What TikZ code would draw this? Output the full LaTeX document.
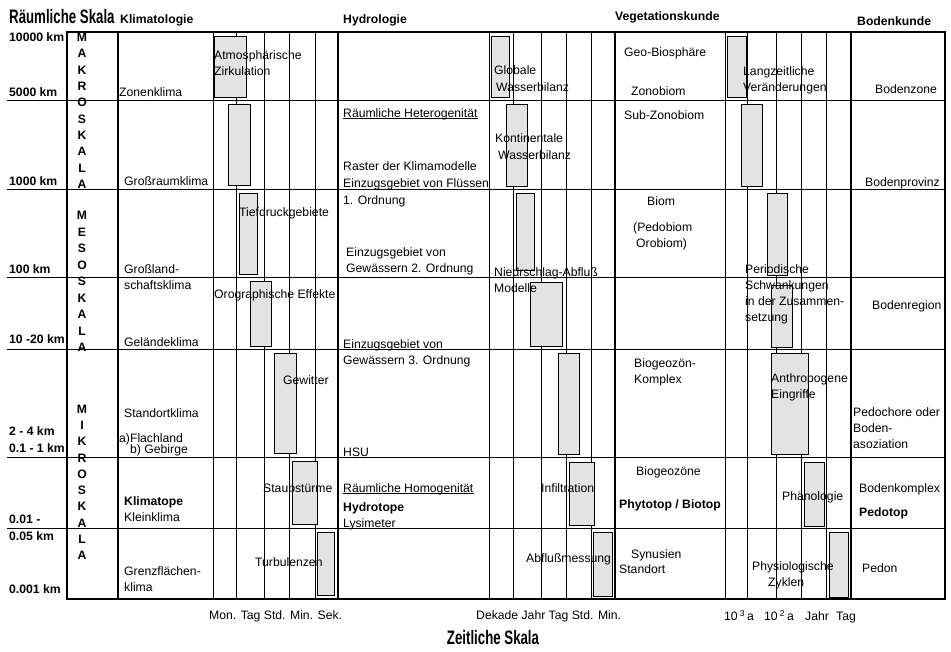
\documentclass[tikz,border=0pt]{standalone}
\usepackage{fontspec}
\setmainfont{Liberation Sans}
\newfontfamily\condfont[FakeStretch=0.68]{Liberation Sans}
\usepackage{tikz}

\begin{document}
\begin{tikzpicture}[
  x=1pt, y=-1pt,
  font=\fontsize{12.2}{16}\selectfont,
  txt/.style={anchor=west, inner sep=0pt, text height=9pt, text depth=0pt},
  multi/.style={anchor=north west, inner sep=0pt, align=left},
  hd/.style={txt, font=\fontsize{12.2}{16}\selectfont\bfseries},
  scl/.style={anchor=center, inner sep=0pt, text height=9pt, text depth=0pt, font=\fontsize{12.2}{16}\selectfont\bfseries},
  ttl/.style={anchor=west, inner sep=0pt, text height=14pt, text depth=0pt, font=\condfont\bfseries\fontsize{19.5}{22}\selectfont},
  bar/.style={draw, fill=gray!22, line width=0.6pt},
  thin/.style={line width=0.7pt},
  mid/.style={line width=1pt},
  heavy/.style={line width=1.8pt}]
\useasboundingbox (0,0) rectangle (951,651);
% grid
\foreach \x in {213,236,264,289,315,489,513,541,566,591,747,776,801,826}
  \draw[thin] (\x,32) -- (\x,599);
\draw[mid] (725,32) -- (725,599);
\foreach \y in {100,189,277,349,457,528}
  \draw[thin] (7,\y) -- (945,\y);
\foreach \x in {118,338,615,851}
  \draw[heavy] (\x,32) -- (\x,599);
\draw[heavy] (67,32) rectangle (945,599);
% time bars
\foreach \xa/\ya/\xb/\yb in {214/36/246/97, 228/104/250/185, 239/193/257/274, 250/281/271/346,
    274/353/296/453, 292/461/317/524, 317/532/334/595,
    491/36/509/97, 506/104/527/186, 516/193/534/270, 530/282/562/346,
    558/353/579/454, 569/462/594/525, 593/532/612/596,
    727/36/746/97, 741/104/762/186, 767/193/787/275, 771/285/792/347,
    771/353/808/454, 804/462/824/526, 829/532/848/597}
  \draw[bar] (\xa,\ya) rectangle (\xb,\yb);
% titles and headings
\node[ttl] (raeumlich) at (9,16) {Räumliche Skala};
\node[ttl, anchor=center] (zeitlich) at (493,637) {Zeitliche Skala};
\node[hd] (klimatologie) at (120,19) {Klimatologie};
\node[hd] (hydrologie) at (343,19) {Hydrologie};
\node[hd] (vegetation) at (615,16) {Vegetationskunde};
\node[hd] (bodenkunde) at (857,21) {Bodenkunde};
% spatial scale
\node[hd] (km10000) at (9,37) {10000 km};
\node[hd] (km5000) at (9,92) {5000 km};
\node[hd] (km1000) at (9,181) {1000 km};
\node[hd] (km100) at (9,269) {100 km};
\node[hd] (km10) at (9,339) {10 -20 km};
\node[hd] (km2) at (9,431) {2 - 4 km};
\node[hd] (km01) at (9,448) {0.1 - 1 km};
\node[hd] (km001) at (9,519) {0.01 -};
\node[hd] (km005) at (9,536) {0.05 km};
\node[hd] (km0001) at (9,589) {0.001 km};
\foreach \c [count=\i] in {M,A,K,R,O,S,K,A,L,A}
  \node[scl] (makro\i) at (82,{37+16.33*(\i-1)}) {\c};
\foreach \c [count=\i] in {M,E,S,O,S,K,A,L,A}
  \node[scl] (meso\i) at (82,{215+16.5*(\i-1)}) {\c};
\foreach \c [count=\i] in {M,I,K,R,O,S,K,A,L,A}
  \node[scl] (mikro\i) at (82,{409+16.22*(\i-1)}) {\c};
% Klimatologie
\node[txt] (zonenklima) at (119,92) {Zonenklima};
\node[txt] (grossraum) at (124,181) {Großraumklima};
\node[multi] (grossland) at (124,264.5) {Großland-\\schaftsklima};
\node[txt] (gelaende) at (124,342) {Geländeklima};
\node[txt] (standort) at (124,413) {Standortklima};
\node[txt] (flachland) at (119,438) {a)Flachland};
\node[txt] (gebirge) at (130,449) {b) Gebirge};
\node[hd] (klimatope) at (124,501) {Klimatope};
\node[txt] (kleinklima) at (124,517) {Kleinklima};
\node[multi] (grenzflaechen) at (124,566.5) {Grenzflächen-\\klima};
\node[multi] (zirkulation) at (214,50.5) {Atmosphärische\\Zirkulation};
\node[txt] (tiefdruck) at (239,212) {Tiefdruckgebiete};
\node[txt] (orographie) at (214,294) {Orographische Effekte};
\node[txt] (gewitter) at (283,380) {Gewitter};
\node[txt] (staub) at (263,488) {Staubstürme};
\node[txt] (turbulenz) at (255,562) {Turbulenzen};
% Hydrologie
\node[txt] (hetero) at (343,113) {Räumliche Heterogenität};
\node[txt] (raster) at (343,166) {Raster der Klimamodelle};
\node[txt] (fluesse) at (343,183) {Einzugsgebiet von Flüssen};
\node[txt] (ordnung1) at (343,200) {1. Ordnung};
\node[multi] (ordnung2) at (346,247.5) {Einzugsgebiet von\\Gewässern 2. Ordnung};
\node[multi] (ordnung3) at (343,339.5) {Einzugsgebiet von\\Gewässern 3. Ordnung};
\node[txt] (hsu) at (343,452) {HSU};
\node[txt] (homo) at (343,488) {Räumliche Homogenität};
\node[hd] (hydrotope) at (343,507) {Hydrotope};
\node[txt] (lysimeter) at (343,523) {Lysimeter};
\foreach \n in {hetero,hsu,homo,lysimeter}
  \draw[thin] ([yshift=-1pt]\n.south west) -- ([yshift=-1pt]\n.south east);
\node[txt] (globale) at (494,70) {Globale};
\node[txt] (wasser1) at (496,87) {Wasserbilanz};
\node[txt] (kontinent) at (495,138) {Kontinentale};
\node[txt] (wasser2) at (498,155) {Wasserbilanz};
\node[multi] (niederschlag) at (494,267.5) {Niedrschlag-Abfluß\\Modelle};
\node[txt] (infiltration) at (541,488) {Infiltration};
\node[txt] (abfluss) at (526,558) {Abflußmessung};
% Vegetationskunde
\node[txt] (geobio) at (624,52) {Geo-Biosphäre};
\node[txt] (zonobiom) at (631,91) {Zonobiom};
\node[txt] (subzono) at (624,115) {Sub-Zonobiom};
\node[txt] (biom) at (647,201) {Biom};
\node[txt] (pedobiom) at (633,227) {(Pedobiom};
\node[txt] (orobiom) at (636,243) {Orobiom)};
\node[multi] (komplex) at (634,358.5) {Biogeozön-\\Komplex};
\node[txt] (biogeozoene) at (636,471) {Biogeozöne};
\node[hd] (phytotop) at (619,504) {Phytotop / Biotop};
\node[txt] (synusien) at (631,554) {Synusien};
\node[txt] (standortv) at (619,569) {Standort};
\node[multi] (langzeit) at (743,66.5) {Langzeitliche\\Veränderungen};
\node[multi] (periodisch) at (745,264.5) {Periodische\\Schwankungen\\in der Zusammen-\\setzung};
\node[multi] (anthropogen) at (771,373.5) {Anthropogene\\Eingriffe};
\node[txt] (phaenologie) at (782,496) {Phänologie};
\node[txt] (physio) at (752,566) {Physiologische};
\node[txt] (zyklen) at (768,582) {Zyklen};
% Bodenkunde
\node[txt] (bodenzone) at (875,89) {Bodenzone};
\node[txt] (bodenprovinz) at (865,182) {Bodenprovinz};
\node[txt] (bodenregion) at (872,305) {Bodenregion};
\node[multi] (pedochore) at (853,407.5) {Pedochore oder\\Boden-\\asoziation};
\node[txt] (bodenkomplex) at (859,488) {Bodenkomplex};
\node[hd] (pedotop) at (859,512) {Pedotop};
\node[txt] (pedon) at (862,568) {Pedon};
% time scale
\node[txt] (zeitklima) at (209,615) {Mon. Tag Std. Min. Sek.};
\node[txt] (zeithydro) at (476,615) {Dekade Jahr Tag Std. Min.};
\node[txt] (zeit1000a) at (724,616) {10\,\textsuperscript{3}\,a};
\node[txt] (zeit100a) at (764,616) {10\,\textsuperscript{2}\,a};
\node[txt] (zeitjahr) at (805,616) {Jahr};
\node[txt] (zeittag) at (836,616) {Tag};
\end{tikzpicture}
\end{document}
